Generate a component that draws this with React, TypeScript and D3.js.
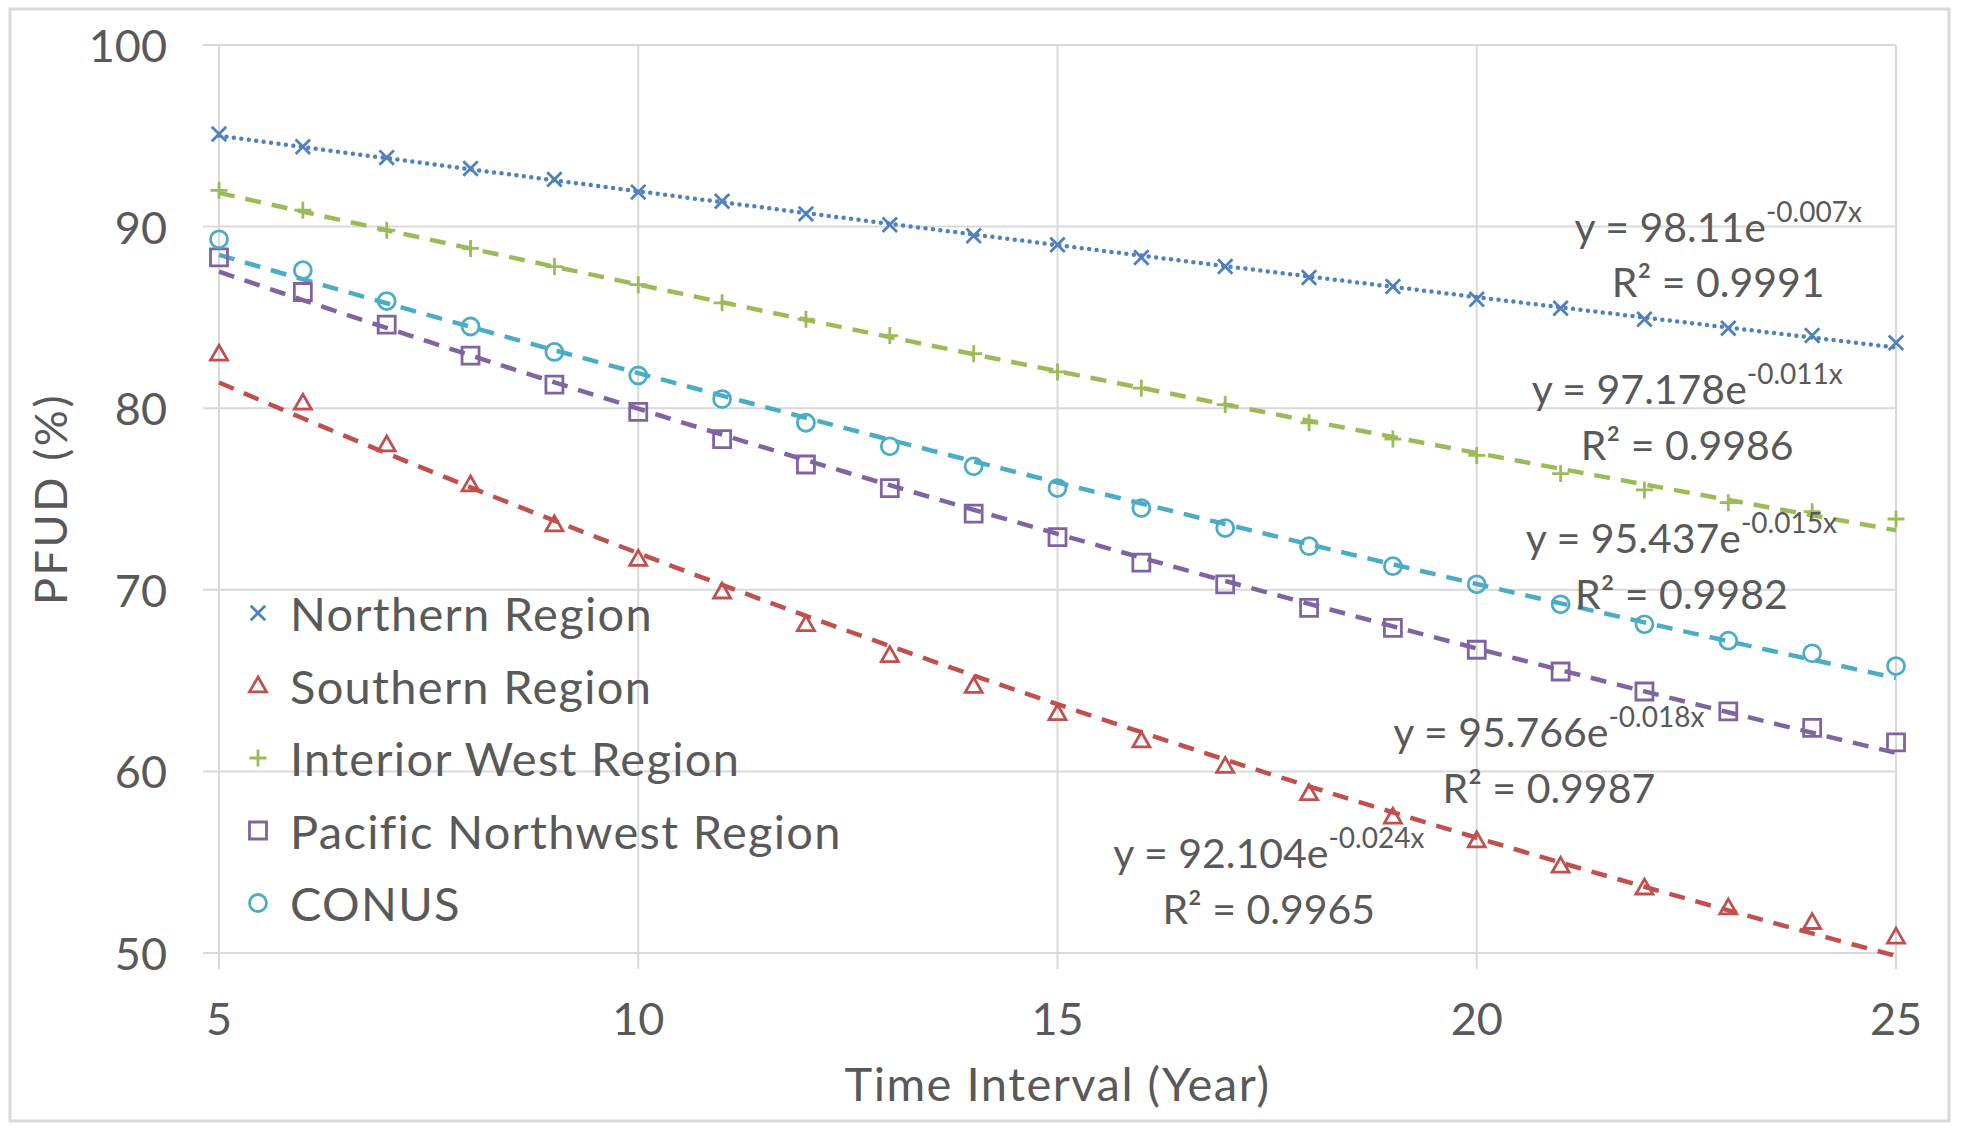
import React, { useEffect, useRef } from 'react';
import * as d3 from 'd3';

// Years on the x axis
const years = [5, 6, 7, 8, 9, 10, 11, 12, 13, 14, 15, 16, 17, 18, 19, 20, 21, 22, 23, 24, 25];

// PFUD (%) per region
const northern = [95.1, 94.4, 93.8, 93.2, 92.6, 91.9, 91.4, 90.7, 90.1, 89.5, 89.0, 88.3, 87.8, 87.2, 86.7, 86.0, 85.5, 84.9, 84.4, 84.0, 83.6];
const southern = [83.0, 80.3, 78.0, 75.8, 73.6, 71.7, 69.9, 68.1, 66.4, 64.7, 63.2, 61.7, 60.3, 58.8, 57.5, 56.2, 54.8, 53.6, 52.5, 51.7, 50.9];
const interiorWest = [92.0, 90.9, 89.8, 88.8, 87.8, 86.8, 85.8, 84.9, 84.0, 83.0, 82.0, 81.1, 80.2, 79.2, 78.3, 77.4, 76.4, 75.5, 74.8, 74.3, 73.9];
const pacificNW = [88.3, 86.4, 84.6, 82.9, 81.3, 79.8, 78.3, 76.9, 75.6, 74.2, 72.9, 71.5, 70.3, 69.0, 67.9, 66.7, 65.5, 64.4, 63.3, 62.4, 61.6];
const conus = [89.3, 87.6, 85.9, 84.5, 83.1, 81.8, 80.5, 79.2, 77.9, 76.8, 75.6, 74.5, 73.4, 72.4, 71.3, 70.3, 69.2, 68.1, 67.2, 66.5, 65.8];

const seriesNames = ['Northern Region', 'Southern Region', 'Interior West Region', 'Pacific Northwest Region', 'CONUS'];
const seriesValues = [northern, southern, interiorWest, pacificNW, conus];
const seriesColors = ['#4F81BD', '#C0504D', '#9BBB59', '#8064A2', '#4BACC6'];
const seriesMarkers = ['x', 'triangle', 'plus', 'square', 'circle'];
const seriesDash = ['0 7.5', '16 11', '16 11', '16 11', '16 11'];

// Trendline labels as printed in the chart (Northern, Interior West, CONUS, Pacific NW, Southern)
const eqCoef = ['98.11', '97.178', '95.437', '95.766', '92.104'];
const eqExp = ['-0.007x', '-0.011x', '-0.015x', '-0.018x', '-0.024x'];
const eqR2 = ['0.9991', '0.9986', '0.9982', '0.9987', '0.9965'];
// label anchor in data units (x year, y %)
const eqAt: [number, number][] = [[22.88, 90.05], [22.51, 81.1], [22.44, 72.9], [20.86, 62.2], [17.52, 55.55]];

const xTicks = [5, 10, 15, 20, 25];
const yTicks = [50, 60, 70, 80, 90, 100];

const W = 1969;
const H = 1132;
const FONT = 'Lato, "Open Sans", sans-serif';
const TEXT = '#595959';

// exponential fit y = a*e^(bx) by least squares on ln(y)
const expFit = (xs: number[], ys: number[]) => {
  const n = xs.length;
  const ly = ys.map(v => Math.log(v));
  const mx = d3.mean(xs)!;
  const my = d3.mean(ly)!;
  let sxy = 0, sxx = 0;
  for (let i = 0; i < n; i++) {
    sxy += (xs[i] - mx) * (ly[i] - my);
    sxx += (xs[i] - mx) * (xs[i] - mx);
  }
  const b = sxy / sxx;
  const a = Math.exp(my - b * mx);
  return (x: number) => a * Math.exp(b * x);
};

const markerPath = (type: string, s: number) => {
  const h = s / 2;
  switch (type) {
    case 'x':
      return `M${-h * 0.85},${-h * 0.85}L${h * 0.85},${h * 0.85}M${-h * 0.85},${h * 0.85}L${h * 0.85},${-h * 0.85}`;
    case 'plus':
      return `M${-h},0L${h},0M0,${-h}L0,${h}`;
    case 'triangle':
      return `M0,${-h}L${h},${h * 0.75}L${-h},${h * 0.75}Z`;
    case 'square':
      return `M${-h},${-h}L${h},${-h}L${h},${h}L${-h},${h}Z`;
    default:
      return d3.arc()({ innerRadius: 0, outerRadius: h, startAngle: 0, endAngle: 2 * Math.PI }) || '';
  }
};

const App: React.FC = () => {
  const svgRef = useRef<SVGSVGElement>(null);

  useEffect(() => {
    if (!svgRef.current) return;
    const svg = d3.select(svgRef.current);
    svg.selectAll('*').remove();

    const x = d3.scaleLinear().domain([5, 25]).range([219, 1896]);
    const y = d3.scaleLinear().domain([50, 100]).range([953, 45]);

    // chart frame
    svg.append('rect')
      .attr('x', 10).attr('y', 9).attr('width', 1939).attr('height', 1112)
      .attr('fill', '#fff').attr('stroke', '#D9D9D9').attr('stroke-width', 3);

    // gridlines
    svg.append('g').selectAll('line').data(yTicks).enter().append('line')
      .attr('x1', x(5) - 16).attr('x2', x(25))
      .attr('y1', d => y(d)).attr('y2', d => y(d))
      .attr('stroke', '#D9D9D9').attr('stroke-width', 2);
    svg.append('g').selectAll('line').data(xTicks).enter().append('line')
      .attr('x1', d => x(d)).attr('x2', d => x(d))
      .attr('y1', y(100)).attr('y2', y(50) + 16)
      .attr('stroke', '#D9D9D9').attr('stroke-width', 2);

    // tick labels
    svg.append('g').selectAll('text').data(yTicks).enter().append('text')
      .attr('x', 167).attr('y', d => y(d))
      .attr('text-anchor', 'end').attr('dominant-baseline', 'central')
      .attr('font-family', FONT).attr('font-size', 45).attr('fill', TEXT)
      .text(d => d);
    svg.append('g').selectAll('text').data(xTicks).enter().append('text')
      .attr('x', d => x(d)).attr('y', 1018)
      .attr('text-anchor', 'middle').attr('dominant-baseline', 'central')
      .attr('font-family', FONT).attr('font-size', 45).attr('fill', TEXT)
      .text(d => d);

    // axis titles
    svg.append('text')
      .attr('x', (x(5) + x(25)) / 2).attr('y', 1083)
      .attr('text-anchor', 'middle').attr('dominant-baseline', 'central')
      .attr('font-family', FONT).attr('font-size', 47).attr('letter-spacing', 1.5).attr('fill', TEXT)
      .text('Time Interval (Year)');
    svg.append('text')
      .attr('transform', `translate(50, ${(y(50) + y(100)) / 2}) rotate(-90)`)
      .attr('text-anchor', 'middle').attr('dominant-baseline', 'central')
      .attr('font-family', FONT).attr('font-size', 45).attr('letter-spacing', 2.6).attr('fill', TEXT)
      .text('PFUD (%)');

    // trendlines
    const curveX = d3.range(5, 25.001, 0.25);
    const line = d3.line<number>().x(d => x(d));
    seriesValues.forEach((vals, i) => {
      const f = expFit(years, vals);
      svg.append('path')
        .attr('d', line.y(d => y(f(d)))(curveX))
        .attr('fill', 'none')
        .attr('stroke', seriesColors[i])
        .attr('stroke-width', 4.5)
        .attr('stroke-dasharray', seriesDash[i])
        .attr('stroke-linecap', i === 0 ? 'round' : 'butt');
    });

    // markers
    seriesValues.forEach((vals, i) => {
      svg.append('g').selectAll('path').data(vals).enter().append('path')
        .attr('transform', (d, j) => `translate(${x(years[j])}, ${y(d)})`)
        .attr('d', markerPath(seriesMarkers[i], 17))
        .attr('fill', 'none')
        .attr('stroke', seriesColors[i])
        .attr('stroke-width', 2.8);
    });

    // trendline equations
    eqCoef.forEach((c, i) => {
      const cx = x(eqAt[i][0]);
      const cy = y(eqAt[i][1]);
      const t = svg.append('text')
        .attr('x', cx).attr('y', cy)
        .attr('text-anchor', 'middle').attr('dominant-baseline', 'central')
        .attr('font-family', FONT).attr('font-size', 41).attr('fill', TEXT);
      t.append('tspan').text(`y = ${c}e`);
      t.append('tspan').attr('font-size', 28).attr('dy', -15).text(eqExp[i]);
      svg.append('text')
        .attr('x', cx).attr('y', cy + 56)
        .attr('text-anchor', 'middle').attr('dominant-baseline', 'central')
        .attr('font-family', FONT).attr('font-size', 41).attr('fill', TEXT)
        .text(`R\u00B2 = ${eqR2[i]}`);
    });

    // legend
    const lg = svg.append('g');
    seriesNames.forEach((name, i) => {
      const ly = 613 + i * 72.5;
      lg.append('path')
        .attr('transform', `translate(258, ${ly})`)
        .attr('d', markerPath(seriesMarkers[i], 17))
        .attr('fill', 'none').attr('stroke', seriesColors[i]).attr('stroke-width', 2.8);
      lg.append('text')
        .attr('x', 290).attr('y', ly)
        .attr('dominant-baseline', 'central')
        .attr('font-family', FONT).attr('font-size', 47).attr('letter-spacing', 1.3).attr('fill', TEXT)
        .text(name);
    });
  }, []);

  return (
    <div style={{ position: 'absolute', left: 0, top: 0, width: W, height: H, background: '#fff' }}>
      <svg ref={svgRef} width={W} height={H}></svg>
    </div>
  );
};

export default App;
